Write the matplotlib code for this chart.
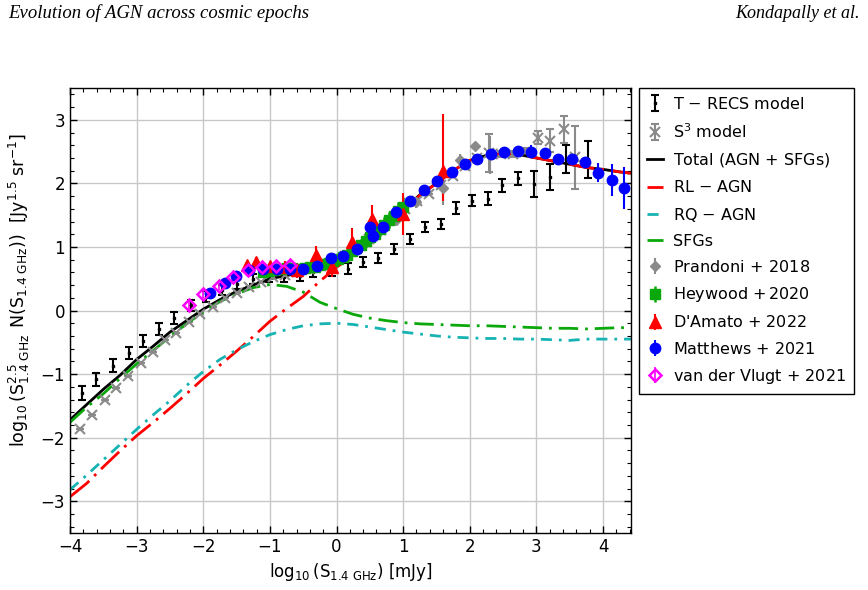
"""Euclidean-normalised 1.4 GHz source counts: models vs. observed counts"""

import matplotlib
matplotlib.use("Agg")
import matplotlib.pyplot as plt
from matplotlib.ticker import MultipleLocator

# ---- model curves (shared flux grid) ----
flux_grid = [-4.00, -3.75, -3.50, -3.25, -3.00, -2.75, -2.50, -2.25, -2.00, -1.75,
             -1.50, -1.25, -1.00, -0.75, -0.50, -0.25, 0.00, 0.25, 0.50, 0.75,
             1.00, 1.25, 1.50, 1.75, 2.00, 2.25, 2.50, 2.75, 3.00, 3.25,
             3.50, 3.75, 4.00, 4.25, 4.42]
total_curve = [-1.72, -1.48, -1.24, -1.02, -0.77, -0.56, -0.34, -0.16, 0.02, 0.17,
               0.30, 0.40, 0.50, 0.55, 0.60, 0.66, 0.74, 0.88, 1.06, 1.30,
               1.58, 1.82, 2.00, 2.20, 2.36, 2.44, 2.47, 2.45, 2.40, 2.35,
               2.30, 2.25, 2.22, 2.18, 2.16]
rl_agn_curve = [-2.93, -2.72, -2.46, -2.21, -1.97, -1.76, -1.54, -1.31, -1.07, -0.86,
                -0.64, -0.41, -0.17, 0.03, 0.22, 0.46, 0.68, 0.86, 1.05, 1.29,
                1.57, 1.81, 2.00, 2.20, 2.36, 2.44, 2.47, 2.45, 2.40, 2.35,
                2.30, 2.25, 2.22, 2.18, 2.16]
rq_agn_curve = [-2.82, -2.59, -2.35, -2.11, -1.87, -1.64, -1.42, -1.18, -0.96, -0.77,
                -0.62, -0.49, -0.38, -0.30, -0.24, -0.21, -0.20, -0.22, -0.26, -0.30,
                -0.34, -0.37, -0.40, -0.42, -0.43, -0.44, -0.44, -0.45, -0.45, -0.46,
                -0.47, -0.45, -0.45, -0.45, -0.45]
sfg_curve = [-1.76, -1.52, -1.31, -1.07, -0.84, -0.63, -0.41, -0.21, -0.02, 0.14,
             0.26, 0.36, 0.41, 0.38, 0.29, 0.13, 0.03, -0.06, -0.12, -0.16,
             -0.19, -0.21, -0.22, -0.23, -0.24, -0.24, -0.25, -0.26, -0.27, -0.28,
             -0.28, -0.29, -0.28, -0.27, -0.27]

# ---- T-RECS model counts ----
trecs_x = [-3.82, -3.61, -3.36, -3.12, -2.90, -2.66, -2.44, -2.18, -1.96, -1.72,
           -1.49, -1.25, -1.01, -0.79, -0.55, -0.35, -0.07, 0.17, 0.40, 0.63,
           0.87, 1.11, 1.33, 1.57, 1.80, 2.03, 2.27, 2.49, 2.73, 2.97,
           3.20, 3.44, 3.78]
trecs_y = [-1.30, -1.08, -0.87, -0.67, -0.48, -0.29, -0.12, 0.08, 0.22, 0.32,
           0.42, 0.50, 0.53, 0.53, 0.54, 0.61, 0.62, 0.66, 0.76, 0.82,
           0.97, 1.13, 1.31, 1.36, 1.61, 1.73, 1.76, 1.97, 2.08, 1.99,
           2.10, 2.38, 2.38]
trecs_err = [0.11, 0.10, 0.10, 0.10, 0.10, 0.10, 0.09, 0.09, 0.08, 0.08,
             0.08, 0.08, 0.08, 0.08, 0.08, 0.08, 0.08, 0.08, 0.08, 0.08,
             0.08, 0.08, 0.08, 0.08, 0.09, 0.09, 0.10, 0.10, 0.10, 0.20,
             0.20, 0.22, 0.29]

# ---- S3 model counts ----
s3_x = [-3.85, -3.67, -3.48, -3.31, -3.13, -2.94, -2.76, -2.58, -2.41, -2.21,
        -2.05, -1.86, -1.67, -1.49, -1.31, -1.13, -0.95, -0.77, -0.59, -0.41,
        -0.23, -0.05, 0.13, 0.31, 0.49, 0.67, 0.85, 1.03, 1.21, 1.39,
        1.57, 1.75, 1.93, 2.11, 2.29, 2.47, 2.65, 2.83, 3.03, 3.20,
        3.41, 3.58]
s3_y = [-1.87, -1.64, -1.40, -1.22, -1.03, -0.83, -0.65, -0.46, -0.35, -0.18,
        -0.05, 0.06, 0.19, 0.28, 0.37, 0.45, 0.52, 0.56, 0.60, 0.65,
        0.70, 0.76, 0.85, 0.98, 1.12, 1.26, 1.42, 1.60, 1.72, 1.84,
        1.97, 2.12, 2.28, 2.40, 2.48, 2.46, 2.46, 2.50, 2.72, 2.67,
        2.85, 2.41]
s3_err = [0, 0, 0, 0, 0, 0, 0, 0, 0, 0,
          0, 0, 0, 0, 0, 0, 0, 0, 0, 0,
          0, 0, 0, 0, 0, 0, 0, 0, 0, 0,
          0, 0, 0, 0.05, 0.30, 0.05, 0.05, 0.05, 0.10, 0.18,
          0.21, 0.50]

# ---- observed counts ----
prandoni_x = [0.30, 0.60, 0.90, 1.20, 1.60, 1.85, 2.08, 2.31]
prandoni_y = [0.95, 1.22, 1.42, 1.70, 1.92, 2.36, 2.59, 2.45]
prandoni_err = [0.05, 0.05, 0.06, 0.08, 0.26, 0.10, 0.06, 0.30]

heywood_x = [-1.10, -1.03, -0.96, -0.89, -0.82, -0.75, -0.68, -0.61, -0.54, -0.47,
             -0.40, -0.33, -0.26, -0.19, -0.12, -0.05, 0.02, 0.09, 0.16, 0.23,
             0.30, 0.37, 0.44, 0.51, 0.58, 0.65, 0.72, 0.79, 0.86, 0.93, 1.00]
heywood_y = [0.60, 0.62, 0.63, 0.65, 0.66, 0.67, 0.67, 0.66, 0.66, 0.67,
             0.68, 0.69, 0.71, 0.73, 0.75, 0.78, 0.81, 0.84, 0.88, 0.93,
             0.98, 1.03, 1.09, 1.15, 1.21, 1.28, 1.35, 1.42, 1.49, 1.56, 1.63]
heywood_err = [0.06, 0.06, 0.06, 0.06, 0.06, 0.06, 0.06, 0.06, 0.06, 0.06,
               0.06, 0.06, 0.07, 0.07, 0.07, 0.07, 0.07, 0.08, 0.08, 0.08,
               0.08, 0.09, 0.09, 0.10, 0.10, 0.11, 0.12, 0.13, 0.14, 0.15, 0.16]

damato_x = [-1.35, -1.21, -1.00, -0.78, -0.60, -0.31, -0.07, 0.23, 0.53, 1.00, 1.60]
damato_y = [0.71, 0.76, 0.70, 0.68, 0.63, 0.87, 0.69, 1.08, 1.44, 1.52, 2.20]
damato_err_lo = [0.06, 0.08, 0.05, 0.10, 0.12, 0.15, 0.16, 0.21, 0.22, 0.33, 0.47]
damato_err_hi = [0.06, 0.08, 0.05, 0.10, 0.12, 0.15, 0.16, 0.21, 0.22, 0.33, 0.89]

matthews_x = [-1.90, -1.68, -1.51, -1.31, -1.10, -0.90, -0.70, -0.50, -0.29, -0.09,
              0.10, 0.31, 0.51, 0.55, 0.70, 0.90, 1.11, 1.32, 1.51, 1.73,
              1.93, 2.11, 2.32, 2.52, 2.72, 2.92, 3.13, 3.33, 3.53, 3.73,
              3.93, 4.13, 4.32]
matthews_y = [0.27, 0.44, 0.55, 0.64, 0.66, 0.66, 0.66, 0.66, 0.70, 0.82,
              0.85, 0.96, 1.31, 1.17, 1.32, 1.55, 1.72, 1.89, 2.04, 2.18,
              2.30, 2.38, 2.46, 2.50, 2.51, 2.50, 2.47, 2.38, 2.38, 2.33,
              2.17, 2.05, 1.92]
matthews_err = [0.03, 0.03, 0.03, 0.03, 0.03, 0.03, 0.03, 0.03, 0.03, 0.03,
                0.03, 0.03, 0.03, 0.03, 0.03, 0.03, 0.03, 0.03, 0.03, 0.03,
                0.03, 0.03, 0.03, 0.03, 0.03, 0.10, 0.04, 0.05, 0.05, 0.07,
                0.15, 0.25, 0.33]

vdv_x = [-2.21, -2.00, -1.77, -1.56, -1.33, -1.12, -0.91, -0.70]
vdv_y = [0.09, 0.26, 0.38, 0.53, 0.63, 0.69, 0.70, 0.71]
vdv_err = [0.08, 0.06, 0.06, 0.06, 0.06, 0.07, 0.07, 0.08]


def style_axes(ax):
    ax.set_xlim(-4, 4.42)
    ax.set_ylim(-3.5, 3.5)
    ax.xaxis.set_major_locator(MultipleLocator(1))
    ax.xaxis.set_minor_locator(MultipleLocator(0.2))
    ax.yaxis.set_major_locator(MultipleLocator(1))
    ax.yaxis.set_minor_locator(MultipleLocator(0.2))
    ax.tick_params(which='both', direction='in', top=True, right=True, labelsize=12)
    ax.tick_params(which='major', length=5, width=1)
    ax.tick_params(which='minor', length=3, width=0.8)
    ax.grid(True, which='major', color='#c8c8c8', linewidth=1.0)
    ax.set_axisbelow(True)
    ax.set_xlabel(r'$\log_{10}(\mathrm{S}_{1.4\ \mathrm{GHz}})$ [mJy]', fontsize=12)
    ax.set_ylabel(r'$\log_{10}(\mathrm{S}^{2.5}_{1.4\ \mathrm{GHz}}\;\,\mathrm{N}(\mathrm{S}_{1.4\ \mathrm{GHz}}))$'
                  r'  [Jy$^{1.5}$ sr$^{-1}$]', fontsize=12.5)
    ax.yaxis.set_label_coords(-0.068, 0.545)
    for sp in ax.spines.values():
        sp.set_linewidth(1.0)


def main():
    plt.rcParams['mathtext.fontset'] = 'dejavusans'
    plt.rcParams['mathtext.default'] = 'regular'

    fig = plt.figure(figsize=(8.68, 5.90), dpi=100)
    ax = fig.add_axes([70 / 868, 57 / 590, 561 / 868, 445 / 590])

    handles = []
    handles.append(ax.errorbar(trecs_x, trecs_y, yerr=trecs_err, fmt='s', ms=1.5, color='black',
                               ecolor='black', elinewidth=1.5, capsize=3, capthick=1.5,
                               label=r'T $-$ RECS model'))
    handles.append(ax.errorbar(s3_x, s3_y, yerr=s3_err, fmt='x', ms=7, mew=1.5, color='#8a8a8a',
                               ecolor='#8a8a8a', elinewidth=1.5, capsize=3, capthick=1.5,
                               label=r'S$^3$ model'))

    handles += ax.plot(flux_grid, total_curve, color='black', lw=2, label=r'Total (AGN $+$ SFGs)')
    handles += ax.plot(flux_grid, rl_agn_curve, color='red', lw=2, dashes=(9, 2.5, 1, 2.5),
                       label=r'RL $-$ AGN')
    handles += ax.plot(flux_grid, rq_agn_curve, color='#17b3b3', lw=2, dashes=(4, 2.5, 1, 2.5),
                       label=r'RQ $-$ AGN')
    handles += ax.plot(flux_grid, sfg_curve, color='#0aa80a', lw=2, dashes=(7, 2.5, 1, 2.5),
                       label='SFGs')

    handles.append(ax.errorbar(prandoni_x, prandoni_y, yerr=prandoni_err, fmt='D', ms=5,
                               color='#8a8a8a', ecolor='#8a8a8a', elinewidth=1.5,
                               label=r'Prandoni$\,+\,$2018'))
    handles.append(ax.errorbar(heywood_x, heywood_y, yerr=heywood_err, fmt='s', ms=7,
                               color='#0aa80a', ecolor='#0aa80a', elinewidth=1.8,
                               label=r'Heywood $+\,$2020'))
    handles.append(ax.errorbar(damato_x, damato_y, yerr=[damato_err_lo, damato_err_hi], fmt='^',
                               ms=8, color='red', ecolor='red', elinewidth=1.5,
                               label=r"D'Amato $+$ 2022"))
    handles.append(ax.errorbar(matthews_x, matthews_y, yerr=matthews_err, fmt='o', ms=7.5,
                               color='blue', ecolor='blue', elinewidth=1.5,
                               label=r'Matthews $+$ 2021'))
    handles.append(ax.errorbar(vdv_x, vdv_y, yerr=vdv_err, fmt='D', ms=6, color='magenta',
                               mfc='none', mew=1.8, ecolor='magenta', elinewidth=1.2,
                               label=r'van der Vlugt $+$ 2021'))

    style_axes(ax)

    leg = ax.legend(handles=handles, loc='upper left',
                    bbox_to_anchor=(639 / 868, 1 - 88 / 590),
                    bbox_transform=fig.transFigure, fontsize=11.5, frameon=True,
                    fancybox=False, edgecolor='black', framealpha=1, borderaxespad=0,
                    handlelength=1.0, handletextpad=0.6, labelspacing=0.64,
                    borderpad=0.5)
    leg.get_frame().set_linewidth(1.0)

    fig.text(8 / 868, 1 - 13 / 590, 'Evolution of AGN across cosmic epochs', ha='left', va='center',
             fontsize=13.5, family='Liberation Serif', style='italic')
    fig.text(860 / 868, 1 - 13 / 590, 'Kondapally et al.', ha='right', va='center',
             fontsize=13, family='Liberation Serif', style='italic')

    fig.savefig('out.png', dpi=100)


if __name__ == "__main__":
    main()
